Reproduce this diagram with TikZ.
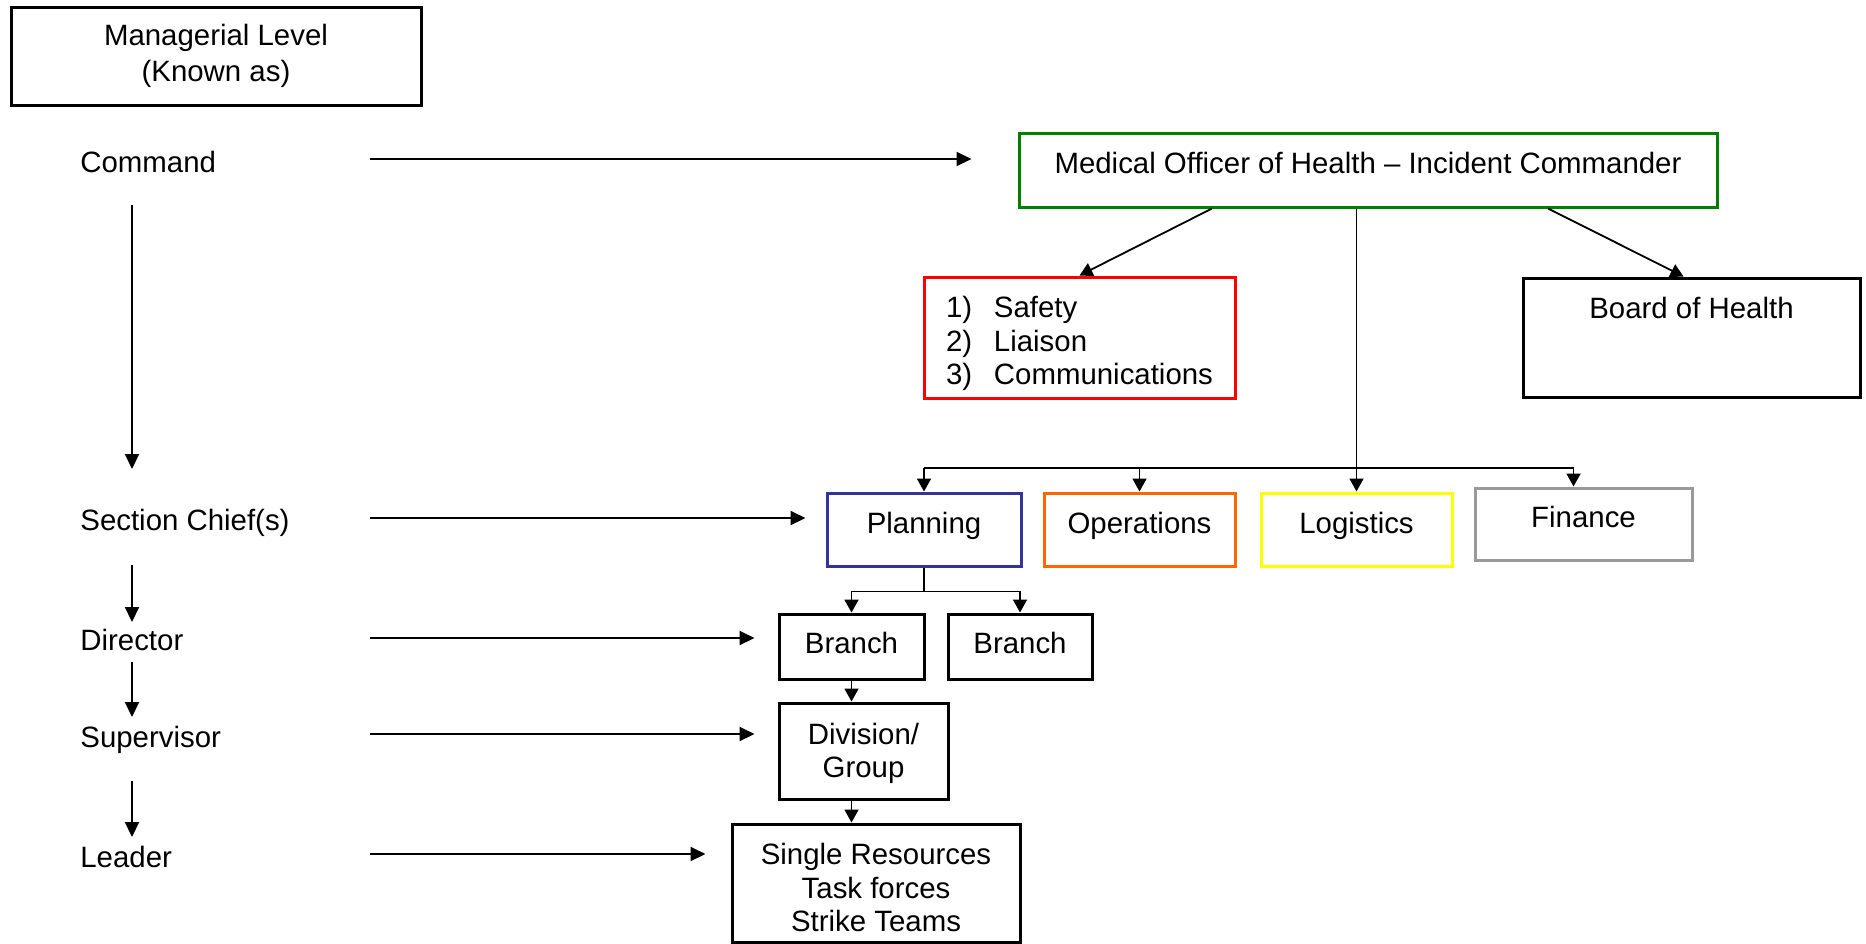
\documentclass[tikz,border=0pt]{standalone}
\usepackage{fontspec}
\setmainfont{Liberation Sans}
\usepackage{tikz}
\usetikzlibrary{arrows.meta}

\definecolor{mohgreen}{RGB}{0,128,0}
\definecolor{safered}{RGB}{255,0,0}
\definecolor{planblue}{RGB}{51,51,153}
\definecolor{opsorange}{RGB}{255,102,0}
\definecolor{logiyellow}{RGB}{255,255,0}
\definecolor{fingray}{RGB}{153,153,153}

\tikzset{
    box/.style={draw, line width=1.5pt, inner sep=0pt, align=center,
        font=\fontsize{14.7}{16.75}\selectfont},
    onebox/.style={box, text height=11pt, text depth=3.7pt},
    level/.style={anchor=base west, inner sep=0pt,
        font=\fontsize{14.7}{16.75}\selectfont},
    arr/.style={-{Triangle[length=6.5pt,width=7pt]}, line width=0.9pt},
    larr/.style={-{Triangle[length=7.5pt,width=7pt]}, line width=1pt}
}

\begin{document}
\begin{tikzpicture}[x=0.5pt, y=-0.5pt]
    % Fix the size of the page
    \useasboundingbox (0,0) rectangle (1866,943);

    % Define the start points of the arrows
    \coordinate (cmdA) at (370,159);
    \coordinate (secA) at (370,518);
    \coordinate (dirA) at (370,638);
    \coordinate (supA) at (370,734);
    \coordinate (leadA) at (370,854);
    \coordinate (v0) at (132,205);
    \coordinate (v1) at (132,469);
    \coordinate (v2) at (132,565);
    \coordinate (v3) at (132,622);
    \coordinate (v4) at (132,662);
    \coordinate (v5) at (132,717);
    \coordinate (v6) at (132,781);
    \coordinate (v7) at (132,837);
    \coordinate (bus) at (0,468);

    % Draw the levels column
    \node[box, minimum width=205pt, minimum height=49pt,
        font=\fontsize{14.7}{18.3}\selectfont] (mgr) at (216,56) {Managerial Level\\(Known as)};
    \node[level] (cmd) at (80,172) {Command};
    \node[level] (sec) at (80,530) {Section Chief(s)};
    \node[level] (dir) at (80,650) {Director};
    \node[level] (sup) at (80,747) {Supervisor};
    \node[level] (lead) at (80,867) {Leader};

    % Draw the command staff
    \node[onebox, draw=mohgreen, minimum width=349pt, minimum height=37pt,
        text depth=7.5pt] (moh) at (1368,170) {Medical Officer of Health – Incident Commander};
    \node[box, draw=safered, align=left, text width=133.5pt, inner xsep=11pt,
        minimum height=60.5pt] (safe) at (1079.5,337.5)
        {\rule{0pt}{17pt}\makebox[24pt][l]{1)}Safety\\\makebox[24pt][l]{2)}Liaison\\\makebox[24pt][l]{3)}Communications};
    \node[onebox, minimum width=168.5pt, minimum height=59.5pt,
        text depth=30.5pt] (board) at (1691.5,337.5) {Board of Health};

    % Draw the sections
    \node[onebox, draw=planblue, minimum width=97pt, minimum height=36.5pt,
        text depth=7.5pt] (plan) at (924,529.5) {Planning};
    \node[onebox, draw=opsorange, minimum width=95.5pt, minimum height=36.5pt,
        text depth=7.5pt] (ops) at (1139.5,529.5) {Operations};
    \node[onebox, draw=logiyellow, minimum width=95.5pt, minimum height=36.5pt,
        text depth=7.5pt] (logi) at (1356.5,529.5) {Logistics};
    \node[onebox, draw=fingray, minimum width=108.5pt, minimum height=36pt,
        text depth=7.5pt] (fin) at (1583.5,524) {Finance};

    % Draw the field levels
    \node[onebox, minimum width=72.5pt, minimum height=32.5pt] (br1) at (851.5,646.5) {Branch};
    \node[onebox, minimum width=72pt, minimum height=32.5pt] (br2) at (1020,646.5) {Branch};
    \node[box, minimum width=84.5pt, minimum height=48pt] (div) at (863.5,751)
        {\rule{0pt}{13pt}Division/\\Group};
    \node[box, minimum width=144pt, minimum height=59pt] (sr) at (876,883)
        {\rule{0pt}{15.5pt}Single Resources\\Task forces\\Strike Teams};

    % Draw the level arrows
    \draw[larr, shorten >=23pt] (cmdA) -- (cmdA -| moh.west);
    \draw[larr, shorten >=10pt] (secA) -- (secA -| plan.west);
    \draw[larr, shorten >=11.5pt] (dirA) -- (dirA -| br1.west);
    \draw[larr, shorten >=11.5pt] (supA) -- (supA -| div.west);
    \draw[larr, shorten >=12.5pt] (leadA) -- (leadA -| sr.west);
    \foreach \a/\b in {v0/v1, v2/v3, v4/v5, v6/v7}
        \draw[larr] (\a) -- (\b);

    % Draw the chart connectors
    \draw[arr] ([xshift=-78pt]moh.south) -- (safe.north);
    \draw[arr] ([xshift=90pt]moh.south) -- ([xshift=-4pt]board.north);
    \draw[arr] (moh.south -| logi.north) -- (logi.north);
    \draw[line width=0.9pt] (plan.north |- bus) -- ([xshift=-5pt]fin.north |- bus);
    \draw[arr] (plan.north |- bus) -- (plan.north);
    \draw[arr] (ops.north |- bus) -- (ops.north);
    \draw[arr] ([xshift=-5pt]fin.north |- bus) -- ([xshift=-5pt]fin.north);
    \draw[arr] (plan.south) -- ++(0,24) -| (br1.north);
    \draw[arr] (plan.south) -- ++(0,24) -| (br2.north);
    \draw[arr] (br1.south) -- (br1.south |- div.north);
    \draw[arr] (div.south -| br1.south) -- (sr.north -| br1.south);
\end{tikzpicture}
\end{document}
